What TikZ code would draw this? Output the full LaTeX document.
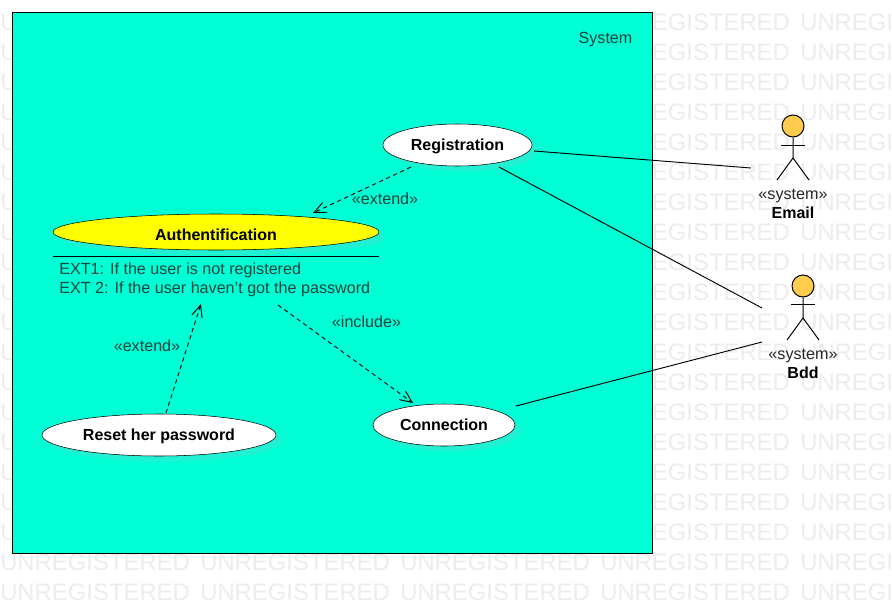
\documentclass[tikz,border=0pt]{standalone}
\usepackage{fontspec}
\setmainfont{Liberation Sans}
\usetikzlibrary{arrows.meta,shapes.geometric,shadows}

\definecolor{boxteal}{HTML}{00FFD5}
\definecolor{shadeteal}{HTML}{22F0D2}
\definecolor{headgold}{HTML}{FFCC4D}
\definecolor{authyellow}{HTML}{FFFF00}
\definecolor{marktext}{HTML}{ECECEC}
\definecolor{labeltext}{HTML}{17433E}

\tikzset{
	usecase/.style = {ellipse, draw = black, fill = white, inner sep = 0pt, text height = 7.5pt, text depth = 0pt,
		font = \fontsize{12}{14}\selectfont\bfseries,
		drop shadow = {fill = shadeteal, opacity = 1, shadow xshift = 4.5pt, shadow yshift = -4pt}},
	tag/.style = {font = \fontsize{12.1}{14}\selectfont, text = labeltext, inner sep = 0pt},
	actorname/.style = {font = \fontsize{12}{14}\selectfont\bfseries, inner sep = 0pt},
	head/.style = {circle, draw = black, line width = 0.75pt, fill = headgold, minimum size = 16.5pt, inner sep = 0pt},
	depend/.style = {line width = 0.7pt, dash pattern = on 3.2pt off 2.6pt, -{Straight Barb[length = 9pt, width = 8pt]}},
	assoc/.style = {line width = 0.7pt}
}

\begin{document}
\begin{tikzpicture}[x = 0.75pt, y = -0.75pt]

	\useasboundingbox (0, 0) rectangle (892, 603);

	% Watermark

	\begin{scope}
		\clip (0, 0) rectangle (892, 603);
		\foreach \row in {0, ..., 19}
			\foreach \col in {0, ..., 4}
				\node (mark\row\col) [anchor = west, inner sep = 0pt, text = marktext, font = \fontsize{17.9}{20}\selectfont]
					at (\col * 200, 22 + \row * 30) {UNREGISTERED};
	\end{scope}

	% System box

	\node (systembox) [draw = black, fill = boxteal, line width = 0.75pt, inner sep = 0pt, minimum width = 480pt, minimum height = 405.75pt]
		at (332, 282.5) {};
	\node (systemtag) [tag] at (605.5, 39.5) {System};

	% Use cases

	\node (registration) [usecase, minimum width = 111.75pt, minimum height = 31.5pt] at (457.5, 145) {Registration};
	\node (authent) [usecase, fill = authyellow, text height = 12pt, minimum width = 244.5pt, minimum height = 27pt] at (216, 232) {Authentification};
	\node (resetpass) [usecase, minimum width = 175.5pt, minimum height = 31.5pt] at (159, 435) {Reset her password};
	\node (connection) [usecase, minimum width = 106.5pt, minimum height = 31.5pt] at (444, 425) {Connection};

	\coordinate (ruleleft) at (53, 256);
	\coordinate (ruleright) at (379, 256);
	\draw (ruleleft) -- (ruleright);
	\node (extone) [tag, anchor = west] at (59, 270.5) {EXT1: If the user is not registered};
	\node (exttwo) [tag, anchor = west] at (59, 289.5) {EXT 2: If the user haven't got the password};

	% Actors

	\begin{scope}[line width = 0.75pt]
		\node (emailhead) [head] at (793, 126) {};
		\coordinate (emailhip) at (793, 158);
		\coordinate (emailarml) at (781, 145);
		\coordinate (emailarmr) at (805, 145);
		\coordinate (emaillegl) at (777, 180);
		\coordinate (emaillegr) at (809, 180);
		\draw (emailhead) -- (emailhip) -- (emaillegl);
		\draw (emailhip) -- (emaillegr);
		\draw (emailarml) -- (emailarmr);

		\node (bddhead) [head] at (803, 286) {};
		\coordinate (bddhip) at (803, 318);
		\coordinate (bddarml) at (791, 304);
		\coordinate (bddarmr) at (815, 304);
		\coordinate (bddlegl) at (787, 340);
		\coordinate (bddlegr) at (819, 340);
		\draw (bddhead) -- (bddhip) -- (bddlegl);
		\draw (bddhip) -- (bddlegr);
		\draw (bddarml) -- (bddarmr);
	\end{scope}

	\node (emailkind) [tag, text = black!85] at (793, 195.5) {«system»};
	\node (emailname) [actorname] at (793, 212.5) {Email};
	\node (bddkind) [tag, text = black!85] at (803, 355.5) {«system»};
	\node (bddname) [actorname] at (803, 372.5) {Bdd};

	% Associations

	\coordinate (regright) at (534, 151);
	\coordinate (regbelow) at (499, 167);
	\coordinate (connright) at (516, 406);
	\coordinate (emailside) at (751, 168);
	\coordinate (bddupper) at (762, 308);
	\coordinate (bddlower) at (762, 342);

	\begin{scope}[assoc]
		\draw (regright) -- (emailside);
		\draw (regbelow) -- (bddupper);
		\draw (connright) -- (bddlower);
	\end{scope}

	% Dependencies

	\coordinate (regfoot) at (411, 167);
	\coordinate (authtop) at (313, 213);
	\coordinate (resettop) at (166, 413);
	\coordinate (exttip) at (201, 304);
	\coordinate (extfoot) at (278, 305);
	\coordinate (conntop) at (413, 403);

	\begin{scope}[depend]
		\draw (regfoot) -- (authtop);
		\draw (resettop) -- (exttip);
		\draw (extfoot) -- (conntop);
	\end{scope}

	\node (extendupper) [tag] at (385, 198.5) {«extend»};
	\node (extendlower) [tag] at (147, 345.5) {«extend»};
	\node (includetag) [tag] at (366.5, 321.5) {«include»};

\end{tikzpicture}
\end{document}
